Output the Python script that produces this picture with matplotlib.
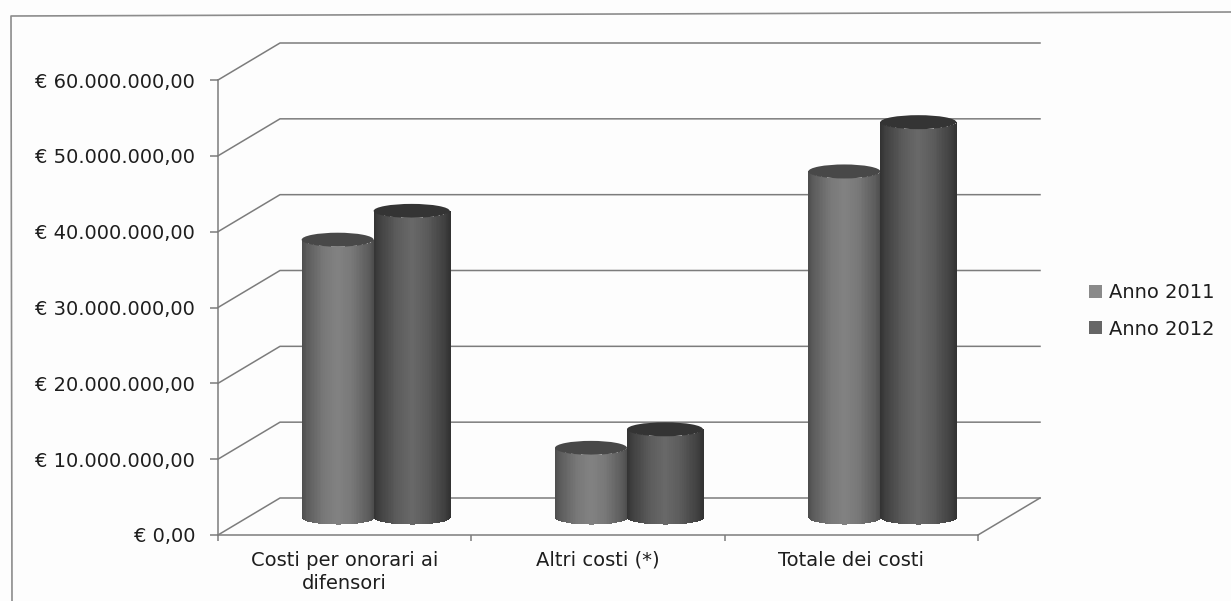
"""Costi 2011/2012: cilindri finti 3D su assi normali."""
import numpy as np
import matplotlib

matplotlib.use("Agg")
import matplotlib.pyplot as plt
from matplotlib.lines import Line2D
from matplotlib.patches import Ellipse, Patch

categories = ["Costi per onorari ai\ndifensori", "Altri costi (*)", "Totale dei costi"]
series_names = ["Anno 2011", "Anno 2012"]
values_2011 = [36.5e6, 9.05e6, 45.5e6]
values_2012 = [40.3e6, 11.5e6, 52.0e6]
y_ticks = [0, 10e6, 20e6, 30e6, 40e6, 50e6, 60e6]
y_labels = [
    "€ 0,00",
    "€ 10.000.000,00",
    "€ 20.000.000,00",
    "€ 30.000.000,00",
    "€ 40.000.000,00",
    "€ 50.000.000,00",
    "€ 60.000.000,00",
]

W, H = 1231, 601
AX_L, AX_R, AX_B, AX_T = 218, 978, 535, 80  # pixels, from the top left
LINE = "#7c7c7c"
TEXT = "#1e1e1e"

plt.rcParams["font.family"] = "DejaVu Sans"

fig = plt.figure(figsize=(W / 100, H / 100), dpi=100, facecolor="#fdfdfd")
# scanned page: only the left and top edges of the frame are visible
fig.add_artist(Line2D([12 / W, 11 / W, 1], [0, 1 - 16 / H, 1 - 12 / H],
                      color="#8c8c8c", lw=1.2))
ax = fig.add_axes([AX_L / W, 1 - AX_B / H, (AX_R - AX_L) / W, (AX_B - AX_T) / H])
ax.set_facecolor("none")

# pixel -> data scale, the depth of the fake 3D box
px_x = 3 / (AX_R - AX_L)
px_y = 60e6 / (AX_B - AX_T)
depth_x = 62 * px_x
depth_y = 37 * px_y

# walls and floor
for v in y_ticks:
    ax.plot([0, depth_x, 3 + depth_x], [v, v + depth_y, v + depth_y],
            color=LINE, lw=1.1, clip_on=False, zorder=1)
ax.plot([3, 3 + depth_x], [0, depth_y], color=LINE, lw=1.1, clip_on=False, zorder=1)

ell_h = 14 * px_y
shade_x = [0, 0.07, 0.3, 0.5, 0.7, 0.93, 1]


def cylinder(xc, width, value, stops, top_color, z):
    # body as vertical strips, bottom and top edges follow the ellipse
    base = depth_y / 2
    t = np.linspace(np.pi, 2 * np.pi, 61)
    ex = xc + width / 2 * np.cos(t)
    ey = ell_h / 2 * np.sin(t)
    xx = np.vstack([ex, ex])
    yy = np.vstack([base + ey, value + base + ey])
    pos = (ex[:-1] + ex[1:] - 2 * ex[0]) / (2 * width)
    shade = np.interp(pos, shade_x, stops)[None, :]
    ax.pcolormesh(xx, yy, shade, cmap="gray", vmin=0, vmax=1, shading="flat",
                  edgecolors="face", linewidth=0.4, zorder=z)
    ax.add_patch(Ellipse((xc, value + base), width, ell_h, fc=top_color, ec="none", zorder=z + 0.1))


w_2011 = 72 * px_x
w_2012 = 76 * px_x
stops_2011 = [0.30, 0.36, 0.47, 0.51, 0.47, 0.36, 0.30]
stops_2012 = [0.20, 0.25, 0.36, 0.41, 0.36, 0.25, 0.20]
for i in range(len(categories)):
    seam = i + 0.5 + depth_x / 2 - 2 * px_x
    cylinder(seam - w_2011 / 2, w_2011, values_2011[i], stops_2011, "#484848", 3)
    cylinder(seam + w_2012 / 2, w_2012, values_2012[i], stops_2012, "#343434", 4)

ax.set_xlim(0, 3)
ax.set_ylim(0, 60e6)

for side in ("top", "right"):
    ax.spines[side].set_visible(False)
for side in ("left", "bottom"):
    ax.spines[side].set_color(LINE)
    ax.spines[side].set_linewidth(1.1)

ax.set_yticks(y_ticks, y_labels)
ax.set_xticks([0, 1, 2, 3], [""] * 4)
ax.set_xticks([0.5, 1.5, 2.5], categories, minor=True)
ax.tick_params(axis="x", which="minor", length=0, pad=11.5, labelsize=14, labelcolor=TEXT)
ax.tick_params(axis="x", which="major", length=4, color=LINE, width=1.1)
ax.tick_params(axis="y", length=5.5, color=LINE, width=1.1, pad=11, labelsize=14, labelcolor=TEXT)
for lab in ax.get_xticklabels(minor=True):
    lab.set_linespacing(1.3)

handles = [Patch(fc="#8a8a8a", ec="none", label=series_names[0]),
           Patch(fc="#666666", ec="none", label=series_names[1])]
fig.legend(handles=handles, loc="center left", bbox_to_anchor=(1071 / W, 1 - 311 / H),
           frameon=False, fontsize=14, labelcolor=TEXT, handlelength=0.68, handleheight=0.68,
           handletextpad=0.35, labelspacing=0.88)

fig.savefig("out.png", dpi=100, facecolor=fig.get_facecolor())
